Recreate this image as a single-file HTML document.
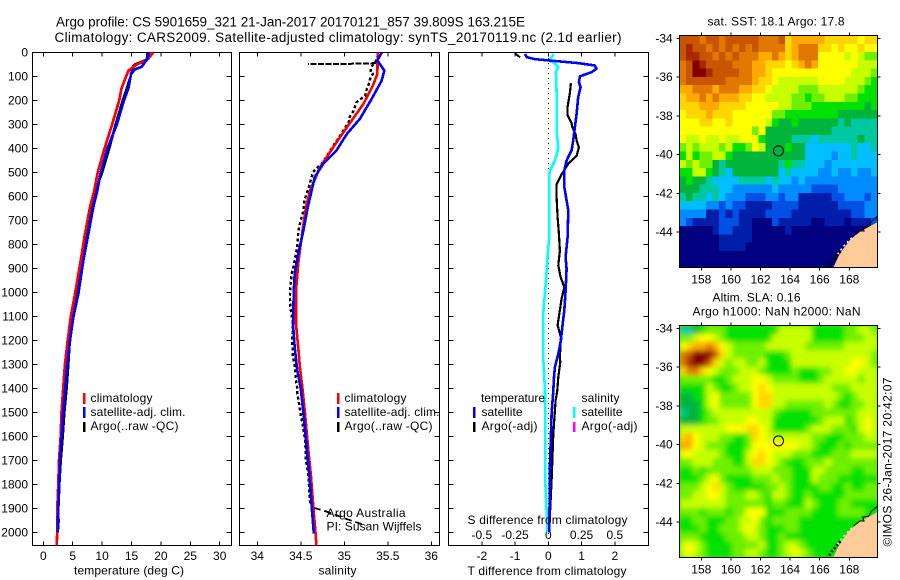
<!DOCTYPE html>
<html>
<head>
<meta charset="utf-8">
<title>Argo profile</title>
<style>
html,body{margin:0;padding:0;background:#fff;width:900px;height:580px;overflow:hidden}
svg{display:block}
text{font-family:"Liberation Sans",sans-serif;font-size:12px;fill:#000}
.title{font-size:13.5px}
.mapt{font-size:12px}
</style>
</head>
<body>
<svg id="chart" width="900" height="580" viewBox="0 0 900 580" xmlns="http://www.w3.org/2000/svg">
  <defs>
    <clipPath id="clip-sst"><rect x="679.5" y="35.5" width="198" height="232"/></clipPath>
    <clipPath id="clip-sla"><rect x="679.5" y="325.5" width="198" height="232"/></clipPath>
    <clipPath id="clip-p2"><rect x="240" y="53" width="199" height="492"/></clipPath>
    <filter id="smooth-field"><feGaussianBlur stdDeviation="2.6"/></filter>
  </defs>
  <rect x="0" y="0" width="900" height="580" fill="#fff"/>

  <text class="title" x="56" y="26.5" textLength="469" lengthAdjust="spacing">Argo profile: CS 5901659_321 21-Jan-2017 20170121_857 39.809S 163.215E</text>
  <text class="title" x="54.5" y="42" textLength="567" lengthAdjust="spacing">Climatology: CARS2009. Satellite-adjusted climatology: synTS_20170119.nc (2.1d earlier)</text>

  <g id="panel-temp"></g>
  <g id="panel-sal"></g>
  <g id="panel-diff"></g>
  <g id="map-sst"></g>
  <g id="map-sla"></g>

  <!-- temperature panel text -->
  <text x="74" y="574.5" textLength="110" lengthAdjust="spacing">temperature (deg C)</text>
  <rect x="83" y="393" width="2.5" height="11" fill="#f00"/>
  <rect x="83" y="407" width="2.5" height="11" fill="#00f"/>
  <rect x="83" y="422" width="2.5" height="10" fill="#000"/>
  <text x="90.5" y="402" textLength="62" lengthAdjust="spacing">climatology</text>
  <text x="90.5" y="416" textLength="95" lengthAdjust="spacing">satellite-adj. clim.</text>
  <text x="90.5" y="430" textLength="88" lengthAdjust="spacing">Argo(..raw -QC)</text>

  <!-- salinity panel text -->
  <text x="318.5" y="574.5" textLength="38" lengthAdjust="spacing">salinity</text>
  <rect x="337" y="393" width="2.5" height="11" fill="#f00"/>
  <rect x="337" y="407" width="2.5" height="11" fill="#00f"/>
  <rect x="337" y="422" width="2.5" height="10" fill="#000"/>
  <text x="344.5" y="402" textLength="62" lengthAdjust="spacing">climatology</text>
  <text x="344.5" y="416" textLength="95" lengthAdjust="spacing">satellite-adj. clim.</text>
  <text x="344.5" y="430" textLength="88" lengthAdjust="spacing">Argo(..raw -QC)</text>
  <text x="326.5" y="517" textLength="79" lengthAdjust="spacing">Argo Australia</text>
  <text x="326.5" y="530.5" textLength="95" lengthAdjust="spacing">PI: Susan Wijffels</text>

  <!-- difference panel text -->
  <text x="481" y="402" textLength="64" lengthAdjust="spacing">temperature</text>
  <rect x="473" y="407" width="2.5" height="11" fill="#00f"/>
  <text x="481.5" y="416" textLength="41" lengthAdjust="spacing">satellite</text>
  <rect x="473" y="422" width="2.5" height="10" fill="#000"/>
  <text x="481.5" y="430" textLength="56" lengthAdjust="spacing">Argo(-adj)</text>
  <text x="581.5" y="402" textLength="38" lengthAdjust="spacing">salinity</text>
  <rect x="573" y="407" width="2.5" height="11" fill="#0ff"/>
  <text x="581.5" y="416" textLength="41" lengthAdjust="spacing">satellite</text>
  <rect x="573" y="422" width="2.5" height="10" fill="#f0f"/>
  <text x="581.5" y="430" textLength="56" lengthAdjust="spacing">Argo(-adj)</text>
  <text x="467.5" y="524" textLength="160" lengthAdjust="spacing">S difference from climatology</text>
  <text x="467.5" y="575" textLength="159" lengthAdjust="spacing">T difference from climatology</text>

  <!-- map text -->
  <text class="mapt" x="707.5" y="25.5" textLength="137" lengthAdjust="spacing">sat. SST: 18.1  Argo: 17.8</text>
  <text class="mapt" x="712.5" y="301.5" textLength="88" lengthAdjust="spacing">Altim. SLA: 0.16</text>
  <text class="mapt" x="692.5" y="315.5" textLength="168" lengthAdjust="spacing">Argo h1000: NaN h2000: NaN</text>
  <text transform="translate(891.5,546.5) rotate(-90)" textLength="169" lengthAdjust="spacing">©IMOS 26-Jan-2017 20:42:07</text>
</svg>

<script>
// ---------- profile data (depth in m) ----------
const depthTicks = [0,100,200,300,400,500,600,700,800,900,1000,1100,1200,1300,1400,1500,1600,1700,1800,1900,2000];
const tempTicks = [0,5,10,15,20,25,30];
const salTicks = [34,34.5,35,35.5,36];
const tDiffTicks = [-2,-1,0,1,2];
const sDiffTicks = [-0.5,-0.25,0,0.25,0.5];
const sDiffLabels = ["-0.5","-0.25","0","0.25","0.5"];

const climTempDepth = [0,32,50,75,100,150,200,300,400,500,575,644,756,867,1006,1103,1200,1297,1394,1500,1600,1700,1800,1900,2000,2054];
const climTemp = [18.7,17.6,15.9,14.5,14.06,13.3,12.9,11.7,10.4,9.25,8.68,7.94,7.09,6.36,5.39,4.66,4.15,3.69,3.4,3.1,2.96,2.67,2.55,2.38,2.38,2.27];
const satTempDepth = [0,30,60,70,90,100,150,200,300,400,500,575,644,756,867,1006,1103,1200,1297,1394,1500,1600,1700,1800,1900,2000];
const satTemp = [18.0,17.6,16.7,15.6,14.9,14.85,14.45,13.7,12.5,10.9,9.76,9.18,8.5,7.65,6.8,5.95,5.1,4.54,4.08,3.74,3.4,3.13,2.84,2.72,2.55,2.45];
const argoTempDepth = [0,30,50,60,100,150,200,300,400,500,575,644,756,867,1006,1103,1200,1297,1394,1500,1600,1700,1800,1900,1950,2000];
const argoTemp = [17.75,17.6,15.6,15.2,14.85,14.2,13.5,12.3,11.2,10,8.9,8.2,7.5,6.5,5.8,4.93,4.5,4.25,3.98,3.57,3.3,2.96,2.72,2.4,2.6,2.45];

const climSalDepth = [0,89,137,214,276,353,415,478,540,575,644,742,881,992,1131,1228,1311,1401,1503,1656,1767,1892,1990,2054];
const climSal = [35.384,35.38,35.33,35.22,35.10,34.95,34.836,34.72,34.65,34.606,34.56,34.52,34.47,34.445,34.445,34.47,34.49,34.52,34.548,34.586,34.617,34.644,34.667,34.68];
const satSalDepth = [0,33,75,117,193,276,339,408,463,519,575,644,742,839,922,992,1131,1228,1325,1401,1503,1656,1767,1892,2005];
const satSal = [35.43,35.38,35.46,35.43,35.315,35.18,35.03,34.91,34.76,34.66,34.625,34.58,34.53,34.47,34.43,34.42,34.41,34.43,34.46,34.5,34.53,34.57,34.6,34.625,34.65];
const argoSalDepth = [8,31,61,82,89,103,124,151,179,207,228,248,269,283,325,359,380,408,443,463,498,519,568,589,617,658,714,748,811,825,887,922,971,1019,1061,1131,1200,1269,1304,1367,1401,1422,1464,1510,1547,1617,1700,1767,1850,1885];
const argoSal = [35.39,35.37,35.31,35.30,35.33,35.30,35.29,35.26,35.24,35.14,35.12,35.10,35.06,35.06,34.99,34.93,34.89,34.84,34.78,34.74,34.64,34.625,34.586,34.567,34.54,34.53,34.49,34.47,34.46,34.45,34.42,34.395,34.38,34.375,34.38,34.41,34.40,34.41,34.43,34.445,34.46,34.46,34.48,34.50,34.52,34.55,34.56,34.59,34.60,34.61];
const argoSpikeDepth = [44,45,46,46,47,47,47,47,48,48,48,48];
const argoSpikeSal = [35.37,35.30,35.22,35.14,35.07,34.99,34.91,34.84,34.76,34.68,34.61,34.58];
const argoTailDepth = [1897,1911,1928,1942,1955,1972];
const argoTailSal = [34.65,34.78,34.91,35.01,35.12,35.25];

const satTDiffDepth = [6,19,28,33,44,54,68,82,99,124,144,186,255,311,367,408,450,492,561,575,658,769,853,901,992,1075,1144,1200,1256,1311,1353,1408,1506,1714,2000];
const satTDiff = [-0.70,-0.65,-0.40,0,0.90,1.40,1.45,1.30,0.95,0.92,0.97,0.90,0.85,0.80,0.75,0.70,0.55,0.48,0.48,0.50,0.60,0.58,0.52,0.55,0.52,0.48,0.42,0.38,0.30,0.20,0.17,0.15,0.10,0.05,0.03];
const argoTDiffTopDepth = [4,20];
const argoTDiffTop = [-1.0,-0.85];
const argoTDiffDepth = [128,168,225,262,294,311,340,367,396,431,463,508,549,604,686,756,825,887,936,978,1026,1089,1137,1186,1269,1290,1353,1408,1450,1590,1783,1920,2000];
const argoTDiff = [0.68,0.65,0.58,0.58,0.70,0.72,0.82,0.85,0.92,0.85,0.60,0.40,0.25,0.25,0.28,0.32,0.35,0.30,0.37,0.48,0.40,0.33,0.28,0.38,0.35,0.36,0.30,0.27,0.22,0.15,0.10,0.05,0.02];
const satSDiffDepth = [6,31,59,82,186,325,401,450,492,507,575,769,811,867,950,1033,1089,1269,1353,1408,1506,1644,1770,1920,2000];
const satSDiff = [0.04,0.013,0.075,0.058,0.063,0.063,0.075,0.05,0.013,0.008,0.0075,0.0075,0,-0.0075,-0.017,-0.03,-0.038,-0.038,-0.03,-0.025,-0.024,-0.024,-0.024,-0.012,-0.005];

// ---------- map data (colour-scale level per grid cell, north to south) ----------
const mapLonTicks = [158,160,162,164,166,168];
const mapLatTicks = [-34,-36,-38,-40,-42,-44];
const floatLon = [163.215];
const floatLat = [-39.809];
const landLon = [166.87,167.37,168.05,168.72,169.95,169.95,166.87];
const landLat = [-45.9,-45.1,-44.41,-43.98,-43.47,-45.9,-45.9];
const coastLon = [168.3,168.72,169.0,168.9,169.3,169.5,169.95];
const coastLat = [-44.2,-43.95,-43.95,-43.75,-43.7,-43.45,-43.15];
const speckLon = [166.5,166.8,167.1,167.4];
const speckLat = [-45.9,-45.55,-45.25,-45.0];
const surfLon = [167.2,167.6,168.0,168.4];
const surfLat = [-45.15,-44.75,-44.42,-44.15];

const sstGrid = [
[14,14,14,13,14,14,13,14,14,14,14,14,13,13,13,14,11,12,12,12,12,12,11,11,11,11,11,10,11,11],
[14,15,14,14,13,14,13,14,13,14,13,14,13,13,13,13,11,12,13,13,13,11,11,10,11,10,10,11,10,10],
[14,15,15,14,14,13,14,13,14,13,13,13,12,12,13,12,11,12,13,13,13,10,10,10,10,9,10,9,8,8],
[13,14,16,15,14,14,14,14,13,13,13,12,12,11,11,11,10,11,12,13,12,10,10,10,10,10,10,9,9,9],
[13,14,16,16,15,14,14,14,14,13,13,12,12,11,10,10,10,10,10,10,10,10,10,10,10,10,9,9,9,8],
[13,14,14,14,14,14,14,13,13,13,13,12,11,11,10,9,9,9,9,9,9,10,10,10,10,9,9,9,8,7],
[12,12,13,13,13,12,13,13,13,12,12,11,11,10,9,9,9,9,8,8,8,9,9,9,9,9,9,8,7,7],
[11,12,12,13,12,13,12,12,12,11,11,10,10,9,9,9,9,8,8,7,8,8,9,9,9,8,8,7,7,7],
[11,11,11,12,12,12,11,11,11,11,10,10,10,10,10,9,9,8,8,8,7,7,7,7,7,7,7,7,6,7],
[10,11,11,11,12,11,11,11,10,10,10,10,10,10,8,8,7,7,7,7,7,7,7,7,6,6,6,6,6,6],
[10,10,10,11,11,10,10,11,10,10,10,10,10,9,7,6,6,7,6,6,6,6,6,6,5,6,5,5,5,5],
[10,10,10,10,10,10,10,10,10,10,10,8,10,6,6,6,6,6,6,6,6,6,6,5,5,5,5,5,5,5],
[10,9,9,10,9,9,10,9,9,10,10,10,7,6,6,6,6,5,5,5,4,5,5,5,5,5,5,6,5,5],
[8,9,8,9,9,9,8,9,7,7,8,10,9,6,6,6,7,6,6,4,4,4,4,4,4,4,5,4,4,5],
[7,9,7,8,8,9,9,7,6,6,6,6,6,6,6,6,6,6,6,4,4,4,4,3,4,4,5,4,4,4],
[9,8,9,8,8,6,5,6,6,6,6,6,6,6,6,5,7,5,5,4,4,4,3,4,4,4,4,4,4,4],
[7,7,9,9,7,6,5,4,6,6,6,6,6,6,6,4,5,4,4,4,4,3,3,4,3,3,4,3,3,4],
[6,7,6,6,5,4,4,4,4,5,5,5,5,4,5,4,4,3,4,3,3,3,3,3,3,3,3,3,3,3],
[6,6,6,5,5,5,4,4,3,3,3,3,3,3,4,3,3,3,3,3,2,2,2,2,3,3,3,3,3,3],
[5,6,5,5,4,5,4,3,3,3,2,2,2,3,3,2,3,3,1,1,1,1,1,2,2,3,3,3,2,3],
[4,4,4,4,3,3,2,3,2,2,1,1,1,1,2,2,2,2,1,1,1,1,1,1,2,2,2,2,3,3],
[3,3,3,3,1,1,2,1,2,1,1,1,1,2,2,2,2,1,1,1,1,1,1,1,1,1,2,2,3,3],
[3,2,1,1,1,1,2,2,2,1,1,0,0,0,2,1,1,1,1,1,0,0,1,1,1,0,1,1,1,2],
[0,0,0,0,0,1,2,2,1,1,1,0,0,0,0,0,1,0,0,0,0,0,0,0,0,0,0,0,0,0],
[0,0,0,0,0,0,1,1,1,1,1,0,0,0,0,0,0,0,0,0,0,0,0,0,0,0,0,0,0,0],
[0,0,0,0,0,0,1,1,1,1,0,0,0,0,0,0,0,0,0,0,0,0,0,0,0,0,0,0,0,0],
[0,0,0,0,0,0,0,0,0,0,0,0,0,0,0,0,0,0,0,0,0,0,0,0,0,0,0,0,0,0],
[0,0,0,0,0,0,0,0,0,0,0,0,0,0,0,0,0,0,0,0,0,0,0,0,0,0,0,0,0,0]
];
const slaGrid = [
[5,5,6,7,8,8,8,7,7,7,7,7,7,7,7,9,9,9,9,9,7,7,7,7,7,8,8,9,9,8],
[8,8,9,10,10,9,8,7,7,7,7,7,7,7,9,9,9,9,9,9,7,7,7,7,7,8,8,8,9,9],
[10,11,12,12,13,12,10,9,8,8,8,8,8,9,9,9,9,9,9,8,8,8,8,8,8,9,9,9,9,9],
[13,14,16,16,16,14,11,9,8,8,8,8,8,7,7,7,8,9,9,9,9,9,9,9,9,9,9,9,9,8],
[13,15,16,16,14,11,9,8,9,9,8,8,9,7,7,7,7,9,9,9,9,9,9,9,9,9,10,10,9,8],
[11,13,13,11,10,9,8,8,8,9,9,9,8,7,7,7,7,8,7,7,7,8,8,9,9,10,10,9,9,9],
[8,8,8,8,8,7,7,8,9,9,9,10,10,9,8,8,8,8,7,7,7,8,9,9,9,9,9,8,9,9],
[7,7,7,7,9,8,7,7,8,9,9,10,11,10,9,9,9,9,9,9,9,9,9,8,8,8,9,9,9,9],
[6,6,7,7,9,10,8,8,8,8,8,10,11,11,9,9,9,9,9,9,9,9,9,9,8,7,8,9,9,9],
[6,6,6,7,9,10,8,8,8,8,8,10,11,11,9,9,8,8,8,8,8,8,9,8,7,7,8,8,9,9],
[5,6,6,7,8,9,9,9,9,9,9,9,9,9,8,7,7,7,7,7,8,8,8,8,8,8,8,9,9,9],
[6,6,6,7,8,8,9,9,9,9,10,10,9,9,7,7,7,7,7,7,7,8,9,9,9,7,8,9,10,9],
[9,9,9,9,9,9,9,10,10,10,11,11,10,9,7,7,7,7,7,8,9,9,9,8,8,8,7,9,10,9],
[11,12,10,9,9,9,8,8,7,7,8,11,10,9,9,9,9,9,9,9,8,8,7,7,7,8,8,8,9,9],
[12,12,10,9,8,8,8,7,7,7,8,10,10,10,10,10,10,10,9,9,8,7,7,7,8,7,8,8,8,8],
[10,10,9,9,9,9,8,7,7,7,9,10,11,10,9,9,9,8,8,8,7,7,7,8,8,8,9,9,9,9],
[8,8,9,9,9,8,8,8,7,7,9,11,11,10,9,8,7,7,7,8,8,8,9,8,8,8,8,8,8,8],
[7,7,8,7,8,8,8,8,8,8,8,9,9,9,8,8,8,7,7,7,9,9,8,8,8,8,7,7,8,8],
[7,7,7,8,9,10,8,7,7,7,7,8,8,8,9,8,8,7,7,7,9,8,8,8,7,7,7,7,7,7],
[8,8,8,9,10,11,9,8,7,7,7,7,7,8,8,9,8,7,7,7,7,8,8,7,7,8,7,7,8,8],
[8,8,9,9,10,10,9,8,8,8,9,9,8,7,9,9,8,7,7,8,7,7,7,7,7,8,8,8,8,8],
[9,9,9,9,9,9,9,8,8,8,8,8,8,7,8,8,7,7,7,9,8,7,7,7,8,8,7,7,7,7],
[8,8,8,7,8,8,8,7,8,8,10,10,10,7,7,7,8,8,8,8,7,7,7,7,8,8,8,8,7,7],
[7,7,8,8,7,7,7,8,8,9,9,10,8,7,8,8,8,8,7,7,7,7,7,7,7,7,7,7,7,7],
[7,7,7,8,7,7,8,8,8,9,10,9,8,7,7,7,8,8,7,7,7,7,7,7,7,7,7,7,7,7],
[8,8,8,7,7,7,7,8,8,8,9,9,8,7,7,8,7,7,7,7,7,7,7,7,7,7,7,7,7,7],
[9,10,9,8,7,7,7,7,8,8,8,8,9,7,7,8,9,9,8,7,7,7,7,7,7,7,7,7,7,7],
[9,10,9,8,7,7,7,7,8,8,9,9,8,7,7,8,9,10,9,8,7,7,7,7,7,7,7,7,7,7]
];
const levelColors = ["#000080","#001eaa","#0050e6","#008cff","#00beff","#00c8a0","#00b43c","#00e100","#6ef000","#c8ff00","#ffff00","#ffd700","#ffaa00","#e17800","#c85500","#aa2800","#820000"];

// ---------- axis functions ----------
const svgNS = "http://www.w3.org/2000/svg";
const yDepth = d => 52.5 + 0.24 * d;
const xTemp = t => 43.3 + 5.88 * t;
const xSal = s => 257.3 + 87 * s - 87 * 34;
const xTDiff = t => 548.3 + 33.25 * t;
const xSDiff = s => 548.3 + 133 * s;
const xLon = lon => 701.3 + 14.8 * (lon - 158);
const ySst = lat => 38.3 - 19.37 * (lat + 34);
const ySla = lat => 328.3 - 19.37 * (lat + 34);

function mk(parent, tag, attrs, txt) {
  const el = document.createElementNS(svgNS, tag);
  for (const k in attrs) el.setAttribute(k, attrs[k]);
  if (txt !== undefined) el.textContent = txt;
  parent.appendChild(el);
  return el;
}
function pts(xs, ys, fx, fy) {
  return xs.map((v, i) => fx(v).toFixed(1) + "," + fy(ys[i]).toFixed(1)).join(" ");
}

const pTemp = document.getElementById("panel-temp");
const pSal = document.getElementById("panel-sal");
const pDiff = document.getElementById("panel-diff");

// ---------- frames and ticks for profile panels ----------
const frames = [
  {g: pTemp, x0: 32.5, x1: 231.5, name: "temperature-frame"},
  {g: pSal, x0: 239.5, x1: 439.5, name: "salinity-frame"},
  {g: pDiff, x0: 448.5, x1: 648.5, name: "difference-frame"}
];
frames.forEach(f => {
  const frame = mk(f.g, "rect", {x: f.x0, y: 52.5, width: f.x1 - f.x0, height: 493, fill: "none", stroke: "#000", "stroke-width": 1, "shape-rendering": "crispEdges"});
  
  
  depthTicks.forEach(d => {
    const t1 = mk(f.g, "line", {x1: f.x0, x2: f.x0 + 5, y1: yDepth(d), y2: yDepth(d), stroke: "#000", "shape-rendering": "crispEdges"});
    
    
    const t2 = mk(f.g, "line", {x1: f.x1 - 5, x2: f.x1, y1: yDepth(d), y2: yDepth(d), stroke: "#000", "shape-rendering": "crispEdges"});
    
    
  });
});
depthTicks.forEach(d => {
  const lab = mk(pTemp, "text", {x: 28, y: yDepth(d) + 4.2, "text-anchor": "end"}, String(d));
  
  
});
function xTicks(g, values, fx, labels, baseline, name) {
  values.forEach((v, i) => {
    const a = mk(g, "line", {x1: fx(v), x2: fx(v), y1: 52.5, y2: 56.5, stroke: "#000", "shape-rendering": "crispEdges"});
    
    
    const b = mk(g, "line", {x1: fx(v), x2: fx(v), y1: 541.5, y2: 545.5, stroke: "#000", "shape-rendering": "crispEdges"});
    
    
    const lab = mk(g, "text", {x: fx(v), y: baseline, "text-anchor": "middle"}, String(labels[i]));
    
    
  });
}
xTicks(pTemp, tempTicks, xTemp, tempTicks, 560, "temperature");
xTicks(pSal, salTicks, xSal, salTicks, 560, "salinity");
xTicks(pDiff, tDiffTicks, xTDiff, tDiffTicks, 560, "t-difference");
sDiffTicks.forEach((v, i) => {
  const lab = mk(pDiff, "text", {x: xSDiff(v), y: 539, "text-anchor": "middle"}, sDiffLabels[i]);
  
  
});

function series(g, xs, ys, fx, color, width, name, dash) {
  const attrs = {points: pts(xs, ys, fx, yDepth), fill: "none", stroke: color, "stroke-width": width, "shape-rendering": "crispEdges", "stroke-linejoin": "round"};
  if (dash) attrs["stroke-dasharray"] = dash;
  const el = mk(g, "polyline", attrs);
  
  
  return el;
}

// temperature panel
series(pTemp, argoTemp, argoTempDepth, xTemp, "#000", 2.6, "argo-temperature-line");
series(pTemp, climTemp, climTempDepth, xTemp, "#f00", 2.7, "climatology-temperature-line");
series(pTemp, satTemp, satTempDepth, xTemp, "#00f", 2.7, "satellite-temperature-line");

// salinity panel
series(pSal, argoSal, argoSalDepth, xSal, "#000", 2.4, "argo-salinity-line", "3 2.5");
series(pSal, argoSpikeSal, argoSpikeDepth, xSal, "#000", 2, "argo-salinity-spike", "6 1.5");
series(pSal, argoTailSal, argoTailDepth, xSal, "#000", 1.8, "argo-salinity-tail", "7 4");
series(pSal, climSal, climSalDepth, xSal, "#f00", 2.6, "climatology-salinity-line");
series(pSal, satSal, satSalDepth, xSal, "#00f", 2.6, "satellite-salinity-line");

// difference panel
const zeroLine = mk(pDiff, "line", {x1: xTDiff(0), x2: xTDiff(0), y1: 53, y2: 545, stroke: "#000", "stroke-width": 1, "stroke-dasharray": "1 4", "shape-rendering": "crispEdges"});


series(pDiff, satSDiff, satSDiffDepth, xSDiff, "#0ff", 2.6, "satellite-salinity-difference-line");
series(pDiff, argoTDiffTop, argoTDiffTopDepth, xTDiff, "#000", 2, "argo-temperature-difference-top");
series(pDiff, argoTDiff, argoTDiffDepth, xTDiff, "#000", 2.2, "argo-temperature-difference-line");
series(pDiff, satTDiff, satTDiffDepth, xTDiff, "#00f", 2.6, "satellite-temperature-difference-line");

// ---------- maps ----------
function drawMap(g, grid, fy, clip, y0, cellName, prefix, smooth) {
  const rows = grid.length, cols = grid[0].length;
  const cw = 198 / cols, ch = 232 / rows;
  const inner = mk(g, "g", {"clip-path": "url(#" + clip + ")"});
  
  
  const base = mk(inner, "rect", {x: 679.5, y: y0, width: 198, height: 232, fill: smooth ? "#50e800" : "#000080"});
  
  
  const cells = mk(inner, "g", smooth ? {filter: "url(#smooth-field)"} : {});
  
  
  grid.forEach((row, r) => {
    row.forEach((lvl, c) => {
      const cell = mk(cells, "rect", {x: (679.5 + c * cw).toFixed(2), y: (y0 + r * ch).toFixed(2), width: (cw + 0.4).toFixed(2), height: (ch + 0.4).toFixed(2), fill: levelColors[lvl], "shape-rendering": "crispEdges"});
      
      
    });
  });
  const land = mk(inner, "polygon", {points: pts(landLon, landLat, xLon, fy), fill: "#ffcc99"});
  
  
  const surf = mk(inner, "polyline", {points: pts(surfLon, surfLat, xLon, fy), fill: "none", stroke: "#fff", "stroke-width": 1.5, "stroke-dasharray": "2 3"});
  
  
  const coast = mk(inner, "polyline", {points: pts(coastLon, coastLat, xLon, fy), fill: "none", stroke: "#000", "stroke-width": 1});
  
  
  const speck = mk(inner, "polyline", {points: pts(speckLon, speckLat, xLon, fy), fill: "none", stroke: "#000", "stroke-width": 2.6, "stroke-dasharray": "2 2"});
  
  
  const frame = mk(g, "rect", {x: 679.5, y: y0, width: 198, height: 232, fill: "none", stroke: "#000", "shape-rendering": "crispEdges"});
  
  
  mapLonTicks.forEach(lon => {
    const top = mk(g, "line", {x1: xLon(lon), x2: xLon(lon), y1: y0 - 3, y2: y0, stroke: "#000", "shape-rendering": "crispEdges"});
    
    
    const bot = mk(g, "line", {x1: xLon(lon), x2: xLon(lon), y1: y0 + 232, y2: y0 + 235, stroke: "#000", "shape-rendering": "crispEdges"});
    
    
    const lab = mk(g, "text", {x: xLon(lon), y: y0 + 248, "text-anchor": "middle"}, String(lon));
    
    
  });
  mapLatTicks.forEach(lat => {
    const l = mk(g, "line", {x1: 676.5, x2: 679.5, y1: fy(lat), y2: fy(lat), stroke: "#000", "shape-rendering": "crispEdges"});
    
    
    const rr = mk(g, "line", {x1: 877.5, x2: 880.5, y1: fy(lat), y2: fy(lat), stroke: "#000", "shape-rendering": "crispEdges"});
    
    
    const lab = mk(g, "text", {x: 672.7, y: fy(lat) + 4.2, "text-anchor": "end"}, String(lat));
    
    
  });
  const marker = mk(g, "circle", {cx: xLon(floatLon[0]), cy: fy(floatLat[0]), r: 5, fill: "none", stroke: "#000", "stroke-width": 1});
  
  
}
drawMap(document.getElementById("map-sst"), sstGrid, ySst, "clip-sst", 35.5, "sst-cell", "sst-map", false);
drawMap(document.getElementById("map-sla"), slaGrid, ySla, "clip-sla", 325.5, "sla-cell", "sla-map", true);
</script>
</body>
</html>
